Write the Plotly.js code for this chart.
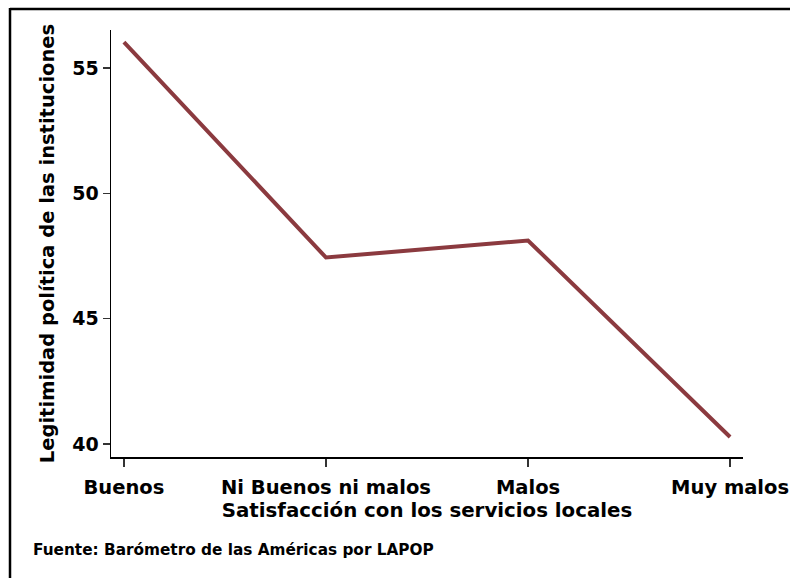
<!DOCTYPE html>
<html><head><meta charset="utf-8">
<script src="https://cdn.plot.ly/plotly-3.0.1.min.js"></script>
<style>html,body{margin:0;padding:0;background:#fff;}#chart{width:790px;height:578px;}</style>
</head><body><div id="chart"></div>
<script>
const categories = ["Buenos", "Ni Buenos ni malos", "Malos", "Muy malos"];
const legitimidad = [56.04, 47.44, 48.12, 40.28];
const yTicks = [40, 45, 50, 55];
const xTitle = "Satisfacción con los servicios locales";
const yTitle = "Legitimidad política de las instituciones";
const source = "Fuente: Barómetro de las Américas por LAPOP";

const W = 790, H = 578, L = 111, R = 47, T = 30, B = 121;
const pw = W - L - R, ph = H - T - B;
const px = v => (v - L) / pw;
const py = v => (H - B - v) / ph;
const font = "DejaVu Sans, Verdana, sans-serif";

const trace = {
  x: [0, 1, 2, 3], y: legitimidad, type: "scatter", mode: "lines",
  line: {color: "#8b3a3f", width: 4}, hoverinfo: "skip", cliponaxis: false
};
const layout = {
  width: W, height: H, margin: {l: L, r: R, t: T, b: B},
  paper_bgcolor: "#fff", plot_bgcolor: "#fff", showlegend: false,
  font: {family: font, color: "#000"},
  xaxis: {
    range: [-0.064, 3.064], tickmode: "array", tickvals: [0, 1, 2, 3], ticktext: categories,
    showgrid: false, zeroline: false, showline: true, linecolor: "#000", linewidth: 1.5,
    ticks: "outside", ticklen: 8, tickwidth: 1.5, tickcolor: "#333",
    tickfont: {family: font, size: 19.5, weight: "bold", color: "#000"},
    ticklabelstandoff: 4,
    title: {text: "<b>" + xTitle + "</b>", font: {family: font, size: 19.8, color: "#000"}, standoff: 2}
  },
  yaxis: {
    range: [39.48, 56.52], tickmode: "array", tickvals: yTicks,
    showgrid: false, zeroline: false, showline: true, linecolor: "#000", linewidth: 1.5,
    ticks: "outside", ticklen: 7, tickwidth: 1.5, tickcolor: "#333",
    tickfont: {family: font, size: 19, weight: "bold", color: "#000"},
    title: {text: "<b>" + yTitle + "</b>", font: {family: font, size: 19.5, color: "#000"}, standoff: 12}
  },
  annotations: [{
    text: "<b>" + source + "</b>", xref: "paper", yref: "paper", x: px(31), y: py(550),
    xanchor: "left", yanchor: "middle", showarrow: false,
    font: {family: font, size: 15.3, color: "#000"}
  }],
  shapes: [
    {type: "line", xref: "paper", yref: "paper", x0: px(10), x1: px(800), y0: py(9), y1: py(9), line: {color: "#000", width: 2.5}},
    {type: "line", xref: "paper", yref: "paper", x0: px(10), x1: px(10), y0: py(8), y1: py(600), line: {color: "#000", width: 2.5}}
  ]
};
Plotly.newPlot("chart", [trace], layout, {displayModeBar: false, staticPlot: true});
</script></body></html>
